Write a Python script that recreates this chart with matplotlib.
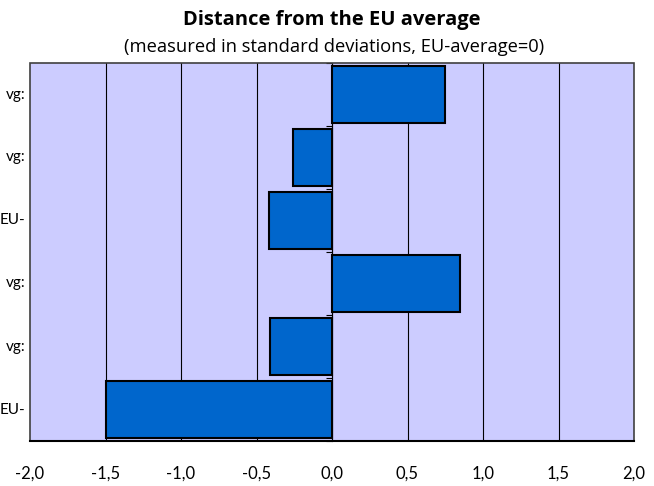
import matplotlib.pyplot as plt
import numpy as np
from matplotlib.patches import Rectangle

plt.rcParams['font.family'] = ['Lato', 'DejaVu Sans']

# rows from top to bottom
labels = ["vg:", "vg:", "EU-", "vg:", "vg:", "EU-"]
values = [0.75, -0.26, -0.42, 0.85, -0.41, -1.50]
xticks = [-2.0, -1.5, -1.0, -0.5, 0.0, 0.5, 1.0, 1.5, 2.0]
xticklabels = ["-2,0", "-1,5", "-1,0", "-0,5", "0,0", "0,5", "1,0", "1,5", "2,0"]

fig = plt.figure(figsize=(6.54, 4.86), dpi=100)
ax = fig.add_axes([30 / 654, 1 - 441 / 486, 604 / 654, 378 / 486])
ax.set_facecolor('#CCCCFF')

n = len(values)
y = np.arange(n)
ax.barh(y, values, height=0.89, color='#0066CC', edgecolor='black', linewidth=1.5, zorder=3)

ax.set_xlim(-2, 2)
ax.set_ylim(n - 0.5, -0.5)

# vertical gridlines
for t in xticks[1:-1]:
    ax.axvline(t, color='black', linewidth=0.8, zorder=1)

# y axis sits at zero with small ticks between categories
for s in ['top', 'right', 'bottom']:
    ax.spines[s].set_visible(False)
ax.spines['left'].set_position(('data', 0))
ax.spines['left'].set_linewidth(0.8)
ax.spines['left'].set_zorder(2)
ax.set_yticks(np.arange(n + 1) - 0.5)
ax.set_yticklabels([])
ax.tick_params(axis='y', length=4, width=0.8, direction='out')

# plot area border
ax.add_patch(Rectangle((0, 0), 1, 1, transform=ax.transAxes, fill=False,
                       edgecolor='#404040', linewidth=1.2, zorder=4, clip_on=False))
ax.plot([0, 1], [0, 0], transform=ax.transAxes, color='black', linewidth=1.5,
        zorder=5, clip_on=False)

ax.set_xticks(xticks)
ax.set_xticklabels(xticklabels, fontsize=12)
ax.tick_params(axis='x', length=0, pad=18)

# category labels on the left
for i, lab in enumerate(labels):
    ax.text(-0.007, i, lab, transform=ax.get_yaxis_transform(), ha='right', va='center',
            fontsize=11)

fig.text(332 / 654, 1 - 20 / 486, "Distance from the EU average", ha='center', va='center',
         fontsize=14.5, fontweight='bold', family=['Open Sans', 'DejaVu Sans'])
fig.text(334 / 654, 1 - 47 / 486, "(measured in standard deviations, EU-average=0)",
         ha='center', va='center', fontsize=13.2, family=['Open Sans', 'DejaVu Sans'])

fig.savefig('out.png', dpi=100)
